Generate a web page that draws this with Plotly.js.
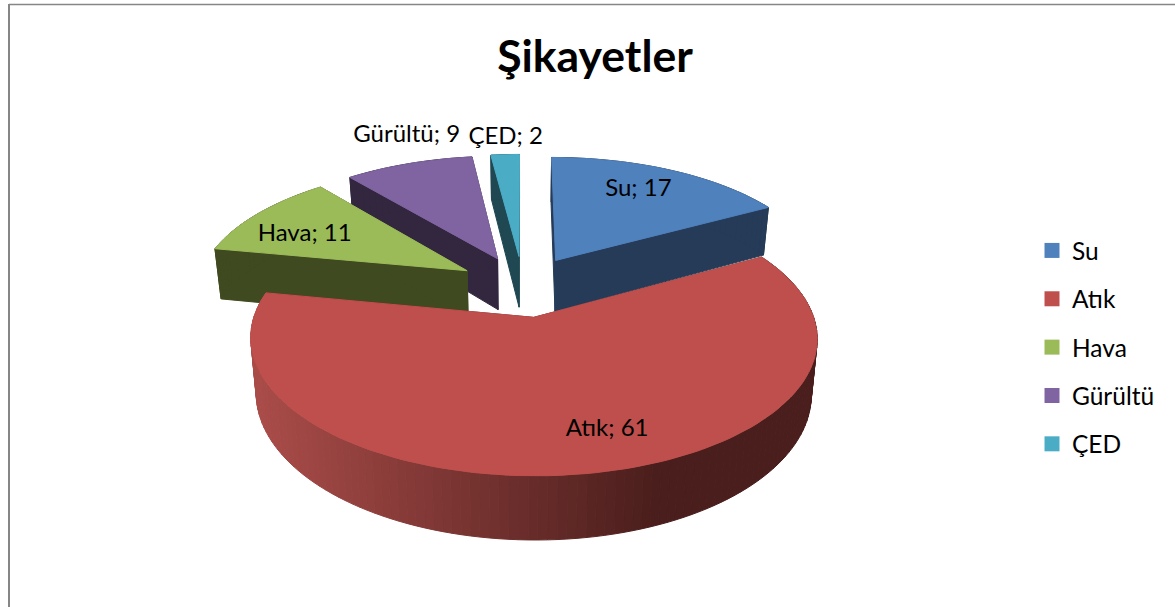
<!DOCTYPE html>
<html><head><meta charset="utf-8">
<script src="https://cdn.plot.ly/plotly-3.0.1.min.js"></script>
<style>html,body{margin:0;padding:0;background:#fff;overflow:hidden}</style>
</head><body><div id="chart" style="width:1175px;height:607px"></div>
<script>
const categories = ["Su", "Atık", "Hava", "Gürültü", "ÇED"];
const values = [17, 61, 11, 9, 2];
const topColors = ["#4F81BD", "#BE4F4C", "#9BBB59", "#8064A2", "#4BACC6"];
const wallColors = ["#253B58", "#6E2B29", "#404A21", "#32273F", "#1F4852"];
const chartTitle = "Şikayetler";
const labelRadius = [0.745, 0.78, 0.72, 1.30, 1.19];
const labelShift = [-2, -8, -5, 4.3, 0.6];
const drawOrder = [4, 3, 2, 0, 1];

const FONT = "Lato, Carlito, Calibri, sans-serif";
// projection of the tilted pie onto the hidden pixel-scaled axes
const cam = {x0: 523, y0: 286, A: 270, B: 125, k: 0.1466, depth: 52.5, bottomX: 0.98, explode: 0.245};
function project(u, v, low) {
  const s = 1 / (1 + cam.k * v);
  const sx = low ? cam.bottomX : 1;
  return [cam.x0 + cam.A * u * s * sx, cam.y0 - cam.B * v * s + (low ? cam.depth * s : 0)];
}
const total = values.reduce((a, b) => a + b, 0);
let acc = 0;
const slices = values.map((val, i) => {
  const start = acc / total * 2 * Math.PI;
  acc += val;
  const end = acc / total * 2 * Math.PI;
  const mid = (start + end) / 2;
  return {i, start, end, mid, ou: cam.explode * Math.sin(mid), ov: cam.explode * Math.cos(mid)};
});
function rim(sl, th, low) { return project(sl.ou + Math.sin(th), sl.ov + Math.cos(th), low); }
function apex(sl, low) { return project(sl.ou, sl.ov, low); }
function poly(points, color) {
  const xs = points.map(p => p[0]), ys = points.map(p => p[1]);
  xs.push(xs[0]); ys.push(ys[0]);
  return {type: "scatter", mode: "lines", x: xs, y: ys, fill: "toself", fillcolor: color,
          line: {color: color, width: 1}, hoverinfo: "skip", showlegend: false};
}
function mix(a, b, t) {
  return "rgb(" + a.map((c, j) => Math.round(c + (b[j] - c) * t)).join(",") + ")";
}
const traces = [];
drawOrder.forEach(idx => {
  const sl = slices[idx];
  const steps = Math.max(6, Math.ceil((sl.end - sl.start) / 0.03));
  const ths = [];
  for (let n = 0; n <= steps; n++) ths.push(sl.start + (sl.end - sl.start) * n / steps);
  // radial walls
  traces.push(poly([apex(sl, false), rim(sl, sl.start, false), rim(sl, sl.start, true), apex(sl, true)], wallColors[idx]));
  traces.push(poly([apex(sl, false), rim(sl, sl.end, false), rim(sl, sl.end, true), apex(sl, true)], wallColors[idx]));
  // outer wall with horizontal shading
  const xLeft = rim(sl, 3 * Math.PI / 2, false)[0], xRight = rim(sl, Math.PI / 2, false)[0];
  for (let n = 0; n < steps; n++) {
    const a = ths[n], b = ths[n + 1];
    const cx = rim(sl, (a + b) / 2, false)[0];
    let color = wallColors[idx];
    if (idx === 1) {
      const t = Math.min(1, Math.max(0, (cx - xLeft) / (xRight - xLeft) / 0.72));
      color = mix([170, 76, 73], [74, 30, 28], t);
    }
    traces.push(poly([rim(sl, a, false), rim(sl, b, false), rim(sl, b, true), rim(sl, a, true)], color));
  }
  // top face
  traces.push(poly([apex(sl, false)].concat(ths.map(t => rim(sl, t, false))), topColors[idx]));
});
// data labels
const lab = slices.map((sl, i) => {
  const th = sl.mid + labelShift[i] * Math.PI / 180;
  return project(sl.ou + labelRadius[i] * Math.sin(th), sl.ov + labelRadius[i] * Math.cos(th), false);
});
traces.push({type: "scatter", mode: "text", x: lab.map(p => p[0]), y: lab.map(p => p[1]),
  text: categories.map((c, i) => c + "; " + values[i]), textposition: "middle center",
  textfont: {family: FONT, size: 24, color: "#000"}, hoverinfo: "skip", showlegend: false});
// legend keys
categories.forEach((c, i) => traces.push({type: "scatter", mode: "markers", x: [null], y: [null], name: c,
  legendgroup: c, marker: {symbol: "square", size: 15, color: topColors[i]}, hoverinfo: "skip"}));

const layout = {
  width: 1175, height: 607, margin: {l: 0, r: 0, t: 0, b: 0},
  paper_bgcolor: "#fff", plot_bgcolor: "#fff",
  title: {text: "<b>" + chartTitle + "</b>", x: 595 / 1175, xanchor: "center", y: 1 - 56 / 607, yanchor: "middle",
          font: {family: FONT, size: 44.5, color: "#000"}},
  xaxis: {range: [0, 1175], visible: false, fixedrange: true},
  yaxis: {range: [607, 0], visible: false, fixedrange: true},
  showlegend: true,
  legend: {x: 1032 / 1175, xanchor: "left", y: 1 - 228 / 607, yanchor: "top", bgcolor: "rgba(0,0,0,0)",
           font: {family: FONT, size: 24.5, color: "#000"}, tracegroupgap: 13.5, itemwidth: 30, traceorder: "grouped"},
  shapes: [
    {type: "line", xref: "x", yref: "y", x0: 9, x1: 1175, y0: 4.5, y1: 4.5, line: {color: "#868686", width: 1.5}},
    {type: "line", xref: "x", yref: "y", x0: 9, x1: 9, y0: 4, y1: 607, line: {color: "#868686", width: 2}}
  ]
};
Plotly.newPlot("chart", traces, layout, {displayModeBar: false, staticPlot: true});
</script></body></html>
